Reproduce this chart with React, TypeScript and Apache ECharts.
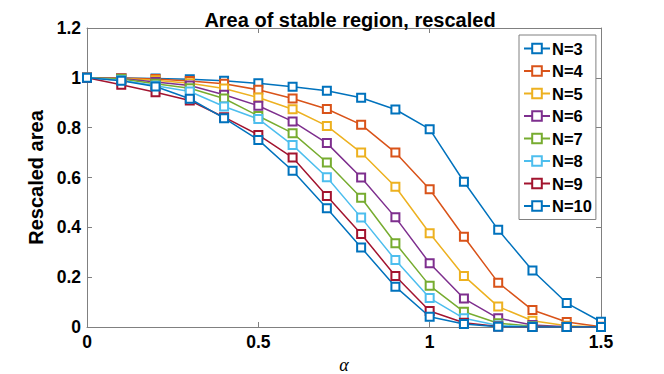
import React, { useEffect, useRef } from "react";
import * as echarts from "echarts";

const alpha = [0, 0.1, 0.2, 0.3, 0.4, 0.5, 0.6, 0.7, 0.8, 0.9, 1.0, 1.1, 1.2, 1.3, 1.4, 1.5];
const seriesNames = ["N=3", "N=4", "N=5", "N=6", "N=7", "N=8", "N=9", "N=10"];
const colors = ["#0072BD", "#D95319", "#EDB120", "#7E2F8E", "#77AC30", "#4DBEEE", "#A2142F", "#0072BD"];

const n3 = [1, 0.999, 0.997, 0.994, 0.988, 0.978, 0.964, 0.948, 0.92, 0.873, 0.794, 0.583, 0.39, 0.227, 0.096, 0.021];
const n4 = [1, 0.999, 0.995, 0.987, 0.976, 0.952, 0.917, 0.875, 0.812, 0.7, 0.553, 0.362, 0.178, 0.068, 0.02, 0.001];
const n5 = [1, 0.998, 0.99, 0.978, 0.957, 0.921, 0.874, 0.807, 0.7, 0.563, 0.376, 0.205, 0.082, 0.025, 0.005, 0];
const n6 = [1, 0.997, 0.983, 0.969, 0.932, 0.888, 0.825, 0.738, 0.6, 0.44, 0.256, 0.114, 0.035, 0.008, 0.001, 0];
const n7 = [1, 0.995, 0.976, 0.958, 0.917, 0.847, 0.778, 0.66, 0.519, 0.336, 0.166, 0.061, 0.015, 0.003, 0, 0];
const n8 = [1, 0.99, 0.968, 0.945, 0.885, 0.835, 0.73, 0.601, 0.439, 0.269, 0.116, 0.035, 0.006, 0.001, 0, 0];
const n9 = [1, 0.972, 0.942, 0.909, 0.842, 0.771, 0.68, 0.526, 0.373, 0.205, 0.064, 0.017, 0.002, 0, 0, 0];
const n10 = [1, 0.988, 0.965, 0.916, 0.838, 0.751, 0.627, 0.477, 0.319, 0.162, 0.041, 0.012, 0.001, 0, 0, 0];

const allValues = [n3, n4, n5, n6, n7, n8, n9, n10];

const FONT = "'Liberation Sans', Arial, Helvetica, sans-serif";
const AXIS_COLOR = "#808080";

export default function App() {
  const ref = useRef<HTMLDivElement>(null);
  useEffect(() => {
    if (!ref.current) return;
    const chart = echarts.init(ref.current, null, { renderer: "svg" });
    const series = allValues.map((vals, i) => ({
      name: seriesNames[i],
      type: "line",
      xAxisIndex: 0,
      yAxisIndex: 0,
      data: vals.map((v, j) => [alpha[j], v]),
      symbol: "emptyRect",
      symbolSize: 8,
      showAllSymbol: true,
      lineStyle: { color: colors[i], width: 1.5 },
      itemStyle: { color: colors[i], borderColor: colors[i], borderWidth: 1.5 },
      emphasis: { disabled: true },
    }));
    const tickStyle = {
      axisLine: { show: true, onZero: false, lineStyle: { color: AXIS_COLOR, width: 1 } },
      axisTick: { show: true, inside: true, length: 5, lineStyle: { color: AXIS_COLOR } },
      splitLine: { show: false },
    };
    chart.setOption({
      animation: false,
      backgroundColor: "#ffffff",
      title: {
        text: "Area of stable region, rescaled",
        left: 345,
        textAlign: "center",
        top: 5,
        textStyle: { fontFamily: FONT, fontWeight: "bold", fontSize: 20, color: "#000" },
      },
      legend: {
        orient: "vertical",
        left: 519,
        top: 35,
        padding: [5, 4, 5, 4],
        itemWidth: 26,
        itemHeight: 12,
        itemGap: 5.5,
        borderColor: AXIS_COLOR,
        borderWidth: 1,
        borderRadius: 0,
        backgroundColor: "#fff",
        textStyle: { fontFamily: FONT, fontWeight: "bold", fontSize: 16.5, color: "#000", padding: [0, 0, 0, -3] },
        data: seriesNames,
      },
      grid: { left: 87, right: 63, top: 28, bottom: 47, containLabel: false, outerBoundsMode: "none" },
      xAxis: [
        {
          type: "value",
          min: 0,
          max: 1.5,
          interval: 0.5,
          position: "bottom",
          name: "α",
          nameLocation: "middle",
          nameGap: 26,
          nameTextStyle: {
            fontFamily: "'Liberation Serif', 'DejaVu Serif', serif",
            fontStyle: "italic",
            fontSize: 18,
            lineHeight: 16,
            color: "#000",
          },
          axisLabel: { fontFamily: FONT, fontWeight: "bold", fontSize: 17.5, color: "#000", margin: 6 },
          ...tickStyle,
        },
        {
          type: "value",
          min: 0,
          max: 1.5,
          interval: 0.5,
          position: "top",
          axisLabel: { show: false },
          ...tickStyle,
        },
      ],
      yAxis: [
        {
          type: "value",
          min: 0,
          max: 1.2,
          interval: 0.2,
          position: "left",
          name: "Rescaled area",
          nameLocation: "middle",
          nameGap: 33,
          nameTextStyle: { fontFamily: FONT, fontWeight: "bold", fontSize: 20, color: "#000" },
          axisLabel: { fontFamily: FONT, fontWeight: "bold", fontSize: 17.5, color: "#000", margin: 6 },
          ...tickStyle,
        },
        {
          type: "value",
          min: 0,
          max: 1.2,
          interval: 0.2,
          position: "right",
          axisLabel: { show: false },
          ...tickStyle,
        },
      ],
      series,
    });
    return () => chart.dispose();
  }, []);
  return (
    <div
      ref={ref}
      style={{ position: "fixed", left: 0, top: 0, width: 664, height: 374, background: "#fff" }}
    />
  );
}
